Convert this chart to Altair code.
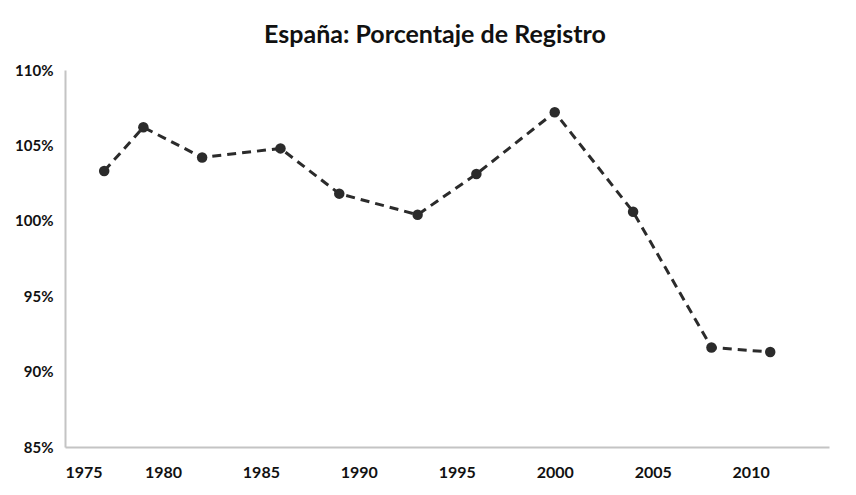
import altair as alt
import pandas as pd

years = [1977, 1979, 1982, 1986, 1989, 1993, 1996, 2000, 2004, 2008, 2011]
registro = [103.3, 106.2, 104.2, 104.8, 101.8, 100.4, 103.1, 107.2, 100.6, 91.6, 91.3]
x_ticks = [1975, 1980, 1985, 1990, 1995, 2000, 2005, 2010]
y_ticks = [85, 90, 95, 100, 105, 110]

df = pd.DataFrame({"year": years, "pct": registro})

x = alt.X("year:Q",
          scale=alt.Scale(domain=[1975, 2014], nice=False, zero=False),
          axis=alt.Axis(values=x_ticks, format="d", title=None, grid=False, ticks=False,
                        domainColor="#c4c4c4", domainWidth=2,
                        labelFont="Lato", labelFontSize=16, labelFontWeight="bold",
                        labelColor="#111", labelPadding=17))
y = alt.Y("pct:Q",
          scale=alt.Scale(domain=[85, 110], nice=False, zero=False),
          axis=alt.Axis(values=y_ticks, labelExpr="datum.value + '%'", title=None, grid=False,
                        ticks=False, domainColor="#c4c4c4", domainWidth=2,
                        labelFont="Lato", labelFontSize=15, labelFontWeight="bold",
                        labelColor="#111", labelPadding=12))

line = alt.Chart(df).mark_line(color="#2b2b2b", strokeWidth=3, strokeDash=[9, 6]).encode(x=x, y=y)
pts = alt.Chart(df).mark_circle(color="#2b2b2b", opacity=1, size=110).encode(x=x, y=y)

chart = (line + pts).properties(
    width=764, height=377,
    autosize=alt.AutoSizeParams(type="none"),
    padding={"left": 57, "top": 62, "right": 15, "bottom": 40},
    title=alt.TitleParams("España: Porcentaje de Registro", font="Lato", fontSize=25,
                          fontWeight="bold", color="#111", anchor="middle", dx=-12, offset=15),
).configure_view(stroke=None)

chart.save("out.html", embed_options={"renderer": "svg", "actions": False})
